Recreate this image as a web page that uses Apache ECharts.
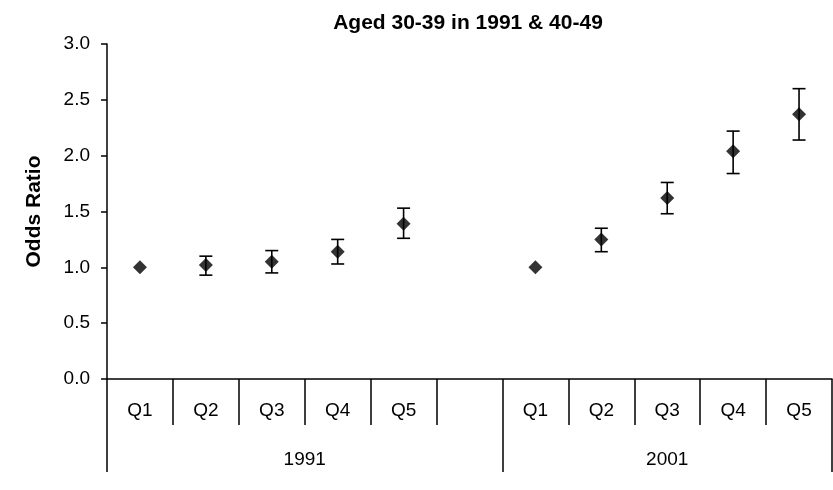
<!DOCTYPE html>
<html>
<head>
<meta charset="utf-8">
<script src="https://cdn.jsdelivr.net/npm/echarts@6/dist/echarts.min.js"></script>
<style>html,body{margin:0;padding:0;background:#fff}#c{width:833px;height:490px}</style>
</head>
<body>
<div id="c"></div>
<script>
var titleText = 'Aged 30-39 in 1991 & 40-49';
var yName = 'Odds Ratio';
var categories = ['Q1','Q2','Q3','Q4','Q5','','Q1','Q2','Q3','Q4','Q5'];
var groups = ['1991','2001'];
var groupSizes = [6,5];
var oddsRatio = [1.00, 1.02, 1.05, 1.14, 1.39, null, 1.00, 1.25, 1.62, 2.04, 2.37];
var lowerCI  = [null, 0.93, 0.95, 1.03, 1.26, null, null, 1.14, 1.48, 1.84, 2.14];
var upperCI  = [null, 1.10, 1.15, 1.25, 1.53, null, null, 1.35, 1.76, 2.22, 2.60];
var yTicks = [0,0.5,1,1.5,2,2.5,3];

var FONT = '"Liberation Sans", Arial, sans-serif';

// group boundaries and centers derived from groupSizes
var bounds = [0], centers = [], acc = 0;
groupSizes.forEach(function(s){ centers.push(acc + s/2); acc += s; bounds.push(acc); });

var pointData = [], errData = [];
oddsRatio.forEach(function(v,i){ if (v != null) pointData.push([i, v]); });
lowerCI.forEach(function(v,i){ if (v != null && upperCI[i] != null) errData.push([i, v, upperCI[i]]); });

var chart = echarts.init(document.getElementById('c'), null, {renderer:'canvas'});
chart.setOption({
  animation: false,
  backgroundColor: '#fff',
  title: {
    text: titleText, left: 468, top: 13, textAlign: 'center', padding: 0,
    textStyle: {fontFamily: FONT, fontSize: 21, fontWeight: 'bold', color: '#000'}
  },
  grid: {left: 107, right: 1, top: 44, bottom: 111, containLabel: false},
  xAxis: [{
    type: 'category', data: categories, boundaryGap: true, position: 'bottom',
    axisLine: {show: true, lineStyle: {color: '#000', width: 1.5}},
    axisTick: {show: true, length: 46, lineStyle: {color: '#000', width: 1.5}},
    axisLabel: {interval: 0, margin: 22, fontFamily: FONT, fontSize: 19, color: '#000'},
    splitLine: {show: false}
  }, {
    type: 'value', min: 0, max: categories.length, position: 'bottom',
    axisLine: {show: false},
    axisTick: {show: true, length: 93, customValues: bounds, lineStyle: {color: '#000', width: 1.5}},
    axisLabel: {show: true, margin: 71, customValues: centers, fontFamily: FONT, fontSize: 19, color: '#000',
      formatter: function(v){ var k = centers.indexOf(v); return k >= 0 ? groups[k] : ''; }},
    splitLine: {show: false}
  }],
  yAxis: {
    type: 'value', min: 0, max: 3, interval: 0.5,
    name: yName, nameLocation: 'middle', nameGap: 62, nameRotate: 90,
    nameTextStyle: {fontFamily: FONT, fontSize: 21, fontWeight: 'bold', color: '#000'},
    axisLine: {show: true, lineStyle: {color: '#000', width: 1.5}},
    axisTick: {show: true, length: 6, lineStyle: {color: '#000', width: 1.5}},
    axisLabel: {margin: 17, fontFamily: FONT, fontSize: 19, color: '#000',
      formatter: function(v){ return v.toFixed(1); }},
    splitLine: {show: false}
  },
  series: [{
    type: 'custom', xAxisIndex: 0, yAxisIndex: 0, data: errData,
    renderItem: function(params, api){
      var x = api.value(0);
      var lo = api.coord([x, api.value(1)]);
      var hi = api.coord([x, api.value(2)]);
      var cw = 6.5;
      var st = {stroke: '#000', lineWidth: 1.6, fill: null};
      return {type: 'group', children: [
        {type: 'line', shape: {x1: lo[0], y1: lo[1], x2: hi[0], y2: hi[1]}, style: st},
        {type: 'line', shape: {x1: lo[0]-cw, y1: lo[1], x2: lo[0]+cw, y2: lo[1]}, style: st},
        {type: 'line', shape: {x1: hi[0]-cw, y1: hi[1], x2: hi[0]+cw, y2: hi[1]}, style: st}
      ]};
    },
    z: 2
  }, {
    type: 'scatter', xAxisIndex: 0, yAxisIndex: 0, data: pointData,
    symbol: 'diamond', symbolSize: 14,
    itemStyle: {color: '#000'}, z: 3
  }]
});
</script>
</body>
</html>
